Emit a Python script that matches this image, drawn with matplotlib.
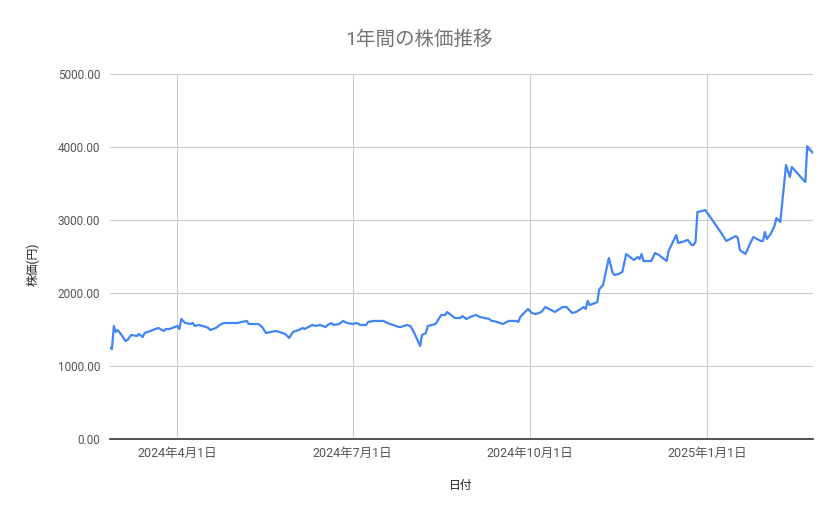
import matplotlib
matplotlib.use('Agg')
import matplotlib.pyplot as plt
import matplotlib.dates as mdates
import numpy as np
import pandas as pd

# ─────────────────────────────────────────────────────────────
# Data
# ─────────────────────────────────────────────────────────────
dates = [
    "2024-02-26", "2024-02-27", "2024-02-28", "2024-02-29", "2024-03-01",
    "2024-03-03", "2024-03-05", "2024-03-06", "2024-03-08", "2024-03-11",
    "2024-03-12", "2024-03-14", "2024-03-15", "2024-03-18", "2024-03-22",
    "2024-03-25", "2024-03-26", "2024-03-28", "2024-04-01", "2024-04-02",
    "2024-04-03", "2024-04-05", "2024-04-08", "2024-04-09", "2024-04-10",
    "2024-04-12", "2024-04-16", "2024-04-17", "2024-04-18", "2024-04-21",
    "2024-04-23", "2024-04-25", "2024-04-27", "2024-05-01", "2024-05-02",
    "2024-05-07", "2024-05-08", "2024-05-13", "2024-05-15", "2024-05-17",
    "2024-05-22", "2024-05-24", "2024-05-27", "2024-05-29", "2024-05-31",
    "2024-06-03", "2024-06-05", "2024-06-06", "2024-06-10", "2024-06-12",
    "2024-06-14", "2024-06-17", "2024-06-18", "2024-06-20", "2024-06-21",
    "2024-06-24", "2024-06-26", "2024-06-28", "2024-07-01", "2024-07-03",
    "2024-07-05", "2024-07-08", "2024-07-09", "2024-07-12", "2024-07-17",
    "2024-07-19", "2024-07-25", "2024-07-26", "2024-07-29", "2024-07-31",
    "2024-08-02", "2024-08-05", "2024-08-06", "2024-08-08", "2024-08-09",
    "2024-08-13", "2024-08-16", "2024-08-18", "2024-08-19", "2024-08-21",
    "2024-08-23", "2024-08-26", "2024-08-27", "2024-08-29", "2024-08-31",
    "2024-09-03", "2024-09-05", "2024-09-10", "2024-09-11", "2024-09-12",
    "2024-09-14", "2024-09-17", "2024-09-20", "2024-09-24", "2024-09-25",
    "2024-09-26", "2024-09-30", "2024-10-02", "2024-10-04", "2024-10-07",
    "2024-10-09", "2024-10-14", "2024-10-18", "2024-10-20", "2024-10-23",
    "2024-10-25", "2024-10-29", "2024-10-30", "2024-10-31", "2024-11-01",
    "2024-11-04", "2024-11-05", "2024-11-06", "2024-11-08", "2024-11-11",
    "2024-11-13", "2024-11-14", "2024-11-16", "2024-11-18", "2024-11-20",
    "2024-11-24", "2024-11-26", "2024-11-27", "2024-11-28", "2024-11-29",
    "2024-12-03", "2024-12-05", "2024-12-07", "2024-12-11", "2024-12-12",
    "2024-12-16", "2024-12-17", "2024-12-19", "2024-12-22", "2024-12-24",
    "2024-12-25", "2024-12-26", "2024-12-27", "2024-12-29", "2024-12-31",
    "2025-01-04", "2025-01-08", "2025-01-11", "2025-01-14", "2025-01-16",
    "2025-01-17", "2025-01-18", "2025-01-21", "2025-01-23", "2025-01-25",
    "2025-01-29", "2025-01-30", "2025-01-31", "2025-02-01", "2025-02-03",
    "2025-02-05", "2025-02-06", "2025-02-08", "2025-02-11", "2025-02-13",
    "2025-02-14", "2025-02-20", "2025-02-21", "2025-02-22", "2025-02-23",
    "2025-02-25",
]

prices = [
    1250, 1233, 1548, 1466, 1493,
    1425, 1343, 1356, 1425, 1411,
    1438, 1397, 1452, 1480, 1521,
    1480, 1507, 1507, 1548, 1507,
    1644, 1589, 1575, 1589, 1548,
    1562, 1534, 1521, 1493, 1521,
    1562, 1589, 1589, 1589, 1589,
    1617, 1575, 1575, 1534, 1452,
    1480, 1466, 1438, 1384, 1466,
    1493, 1521, 1507, 1562, 1548,
    1562, 1534, 1562, 1589, 1562,
    1575, 1617, 1589, 1575, 1589,
    1562, 1562, 1603, 1617, 1617,
    1589, 1534, 1534, 1562, 1548,
    1452, 1274, 1425, 1452, 1548,
    1575, 1699, 1699, 1740, 1699,
    1658, 1658, 1685, 1644, 1671,
    1699, 1671, 1644, 1617, 1617,
    1603, 1575, 1617, 1617, 1603,
    1671, 1781, 1726, 1712, 1740,
    1808, 1740, 1808, 1808, 1726,
    1740, 1808, 1781, 1890, 1836,
    1863, 1877, 2050, 2110, 2479,
    2274, 2247, 2260, 2288, 2534,
    2452, 2493, 2466, 2534, 2438,
    2438, 2548, 2521, 2438, 2575,
    2795, 2685, 2699, 2726, 2658,
    2658, 2699, 3110, 3120, 3137,
    2990, 2836, 2712, 2753, 2781,
    2753, 2589, 2534, 2658, 2767,
    2712, 2712, 2836, 2740, 2808,
    2918, 3027, 2973, 3753, 3589,
    3726, 3548, 3521, 4010, 3973,
    3918,
]

x_ticks = ["2024-04-01", "2024-07-01", "2024-10-01", "2025-01-01"]
x_tick_labels = ["2024年4月1日", "2024年7月1日", "2024年10月1日", "2025年1月1日"]
y_ticks = [0, 1000, 2000, 3000, 4000, 5000]

TITLE = "1年間の株価推移"
XLABEL = "日付"
YLABEL = "株価(円)"

# ─────────────────────────────────────────────────────────────
# Chart
# ─────────────────────────────────────────────────────────────
FONTS = ['Roboto', 'Noto Sans CJK JP', 'DejaVu Sans']
plt.rcParams['font.family'] = FONTS

W, H = 839, 519
fig = plt.figure(figsize=(W / 100, H / 100), dpi=100)
ax = fig.add_axes([110 / W, 1 - 439 / H, (813 - 110) / W, (439 - 74) / H])

x = pd.to_datetime(dates)
ax.plot(x, prices, color='#4285F4', linewidth=1.6, solid_joinstyle='round')

ax.set_xlim(x[0], x[-1])
ax.set_ylim(0, 5000)
ax.set_yticks(y_ticks)
ax.set_yticklabels([f"{v:.2f}" for v in y_ticks])
ax.set_xticks(pd.to_datetime(x_ticks))
ax.set_xticklabels(x_tick_labels)

ax.grid(True, color='#cccccc', linewidth=0.8)
ax.set_axisbelow(True)
for side in ['top', 'right', 'left']:
    ax.spines[side].set_visible(False)
ax.spines['bottom'].set_color('#333333')
ax.spines['bottom'].set_linewidth(1.2)
ax.spines['bottom'].set_zorder(3)

ax.tick_params(axis='both', length=0, labelcolor='#555555')
ax.tick_params(axis='y', pad=7, labelsize=8.5)
ax.tick_params(axis='x', pad=6, labelsize=9)

fig.text(0.5, 1 - 40 / H, TITLE, ha='center', va='center',
         fontsize=14, color='#757575')
fig.text(461 / W, 1 - 486 / H, XLABEL, ha='center', va='center',
         fontsize=8.5, color='#222222')
fig.text(33 / W, 1 - 264 / H, YLABEL, ha='center', va='center',
         rotation=90, fontsize=8.5, color='#222222')

fig.savefig('out.png', dpi=100)
plt.close(fig)
